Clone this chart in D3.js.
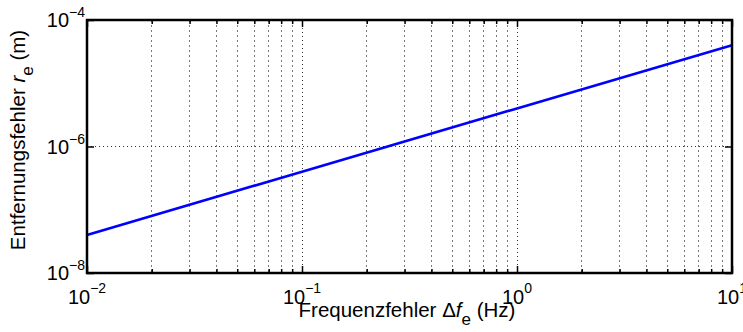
<!DOCTYPE html>
<html>
<head>
<meta charset="utf-8">
<script src="https://cdn.jsdelivr.net/npm/d3@7"></script>
<style>
  html, body { margin: 0; padding: 0; background: #fff; }
  svg { display: block; font-family: "Liberation Sans", Arial, Helvetica, sans-serif; }
</style>
</head>
<body>
<svg id="chart" width="743" height="332"></svg>
<script>
// Frequency error (Hz) and resulting range error (m)
const freqError = [0.01, 0.1, 1, 10];
const rangeError = [4e-8, 4e-7, 4e-6, 4e-5];

// Axis domains and tick labels (exponents of ten)
const xDomain = [0.01, 10];
const yDomain = [1e-8, 1e-4];
const xMajorTicks = [0.01, 0.1, 1, 10];
const xTickExponents = ["\u22122", "\u22121", "0", "1"];
const yMajorTicks = [1e-8, 1e-6, 1e-4];
const yTickExponents = ["\u22128", "\u22126", "\u22124"];
const minorMultipliers = [2, 3, 4, 5, 6, 7, 8, 9];

const svg = d3.select("#chart");
const plotLeft = 87, plotRight = 732, plotTop = 20, plotBottom = 273;

const x = d3.scaleLog().domain(xDomain).range([plotLeft, plotRight]);
const y = d3.scaleLog().domain(yDomain).range([plotBottom, plotTop]);

const xMinor = [];
for (const d of [0.01, 0.1, 1]) for (const m of minorMultipliers) xMinor.push(d * m);

// Grid lines
const grid = svg.append("g");
grid.selectAll(".gx-minor").data(xMinor).join("line")
  .attr("x1", d => x(d)).attr("x2", d => x(d))
  .attr("y1", plotTop).attr("y2", plotBottom)
  .attr("stroke", "#7a7a7a").attr("stroke-width", 1)
  .attr("stroke-dasharray", "2,3").attr("shape-rendering", "crispEdges");
grid.selectAll(".gx-major").data(xMajorTicks.slice(1, -1)).join("line")
  .attr("x1", d => x(d)).attr("x2", d => x(d))
  .attr("y1", plotTop).attr("y2", plotBottom)
  .attr("stroke", "#333").attr("stroke-width", 1)
  .attr("stroke-dasharray", "1,3").attr("shape-rendering", "crispEdges");
grid.selectAll(".gy-major").data(yMajorTicks.slice(1, -1)).join("line")
  .attr("x1", plotLeft).attr("x2", plotRight)
  .attr("y1", d => y(d)).attr("y2", d => y(d))
  .attr("stroke", "#333").attr("stroke-width", 1)
  .attr("stroke-dasharray", "1,3").attr("shape-rendering", "crispEdges");

// Inward tick marks on all four sides
function tickAxis(axisFn, scale, values, size, transform) {
  const g = svg.append("g").attr("transform", transform)
    .call(axisFn(scale).tickValues(values).tickSize(size).tickFormat(""));
  g.select(".domain").remove();
  g.selectAll(".tick line").attr("stroke", "#000").attr("stroke-width", 1.5);
}
tickAxis(d3.axisBottom, x, xMinor, -4, `translate(0,${plotBottom})`);
tickAxis(d3.axisBottom, x, xMajorTicks, -7, `translate(0,${plotBottom})`);
tickAxis(d3.axisTop, x, xMinor, -4, `translate(0,${plotTop})`);
tickAxis(d3.axisTop, x, xMajorTicks, -7, `translate(0,${plotTop})`);
tickAxis(d3.axisLeft, y, yMajorTicks, -7, `translate(${plotLeft},0)`);
tickAxis(d3.axisRight, y, yMajorTicks, -7, `translate(${plotRight},0)`);

// Data line
const line = d3.line().x((d, i) => x(freqError[i])).y(d => y(d));
svg.append("path").datum(rangeError)
  .attr("d", line)
  .attr("fill", "none").attr("stroke", "#0000ff").attr("stroke-width", 2.6);

// Frame
svg.append("rect")
  .attr("x", plotLeft).attr("y", plotTop)
  .attr("width", plotRight - plotLeft).attr("height", plotBottom - plotTop)
  .attr("fill", "none").attr("stroke", "#000").attr("stroke-width", 2.5);

// Tick labels
const xl = svg.append("g").selectAll("text").data(xMajorTicks).join("text")
  .attr("x", d => x(d)).attr("y", 304)
  .attr("text-anchor", "middle").attr("font-size", 20).attr("fill", "#000");
xl.append("tspan").text("10");
xl.append("tspan").attr("dy", -11).attr("font-size", 14).text((d, i) => xTickExponents[i]);

const yl = svg.append("g").selectAll("text").data(yMajorTicks).join("text")
  .attr("x", 85).attr("y", d => y(d) + 7)
  .attr("text-anchor", "end").attr("font-size", 20).attr("fill", "#000");
yl.append("tspan").text("10");
yl.append("tspan").attr("dy", -10).attr("font-size", 14).text((d, i) => yTickExponents[i]);

// Axis titles
const xt = svg.append("text")
  .attr("x", 407).attr("y", 317)
  .attr("text-anchor", "middle").attr("font-size", 20.5).attr("fill", "#000");
xt.append("tspan").text("Frequenzfehler \u0394");
xt.append("tspan").attr("font-style", "italic").text("f");
xt.append("tspan").attr("dy", 8).attr("font-size", 17).text("e");
xt.append("tspan").attr("dy", -8).text(" (Hz)");

const yt = svg.append("text")
  .attr("transform", "translate(25,140) rotate(-90)")
  .attr("text-anchor", "middle").attr("font-size", 20.5).attr("fill", "#000");
yt.append("tspan").text("Entfernungsfehler ");
yt.append("tspan").attr("font-style", "italic").text("r");
yt.append("tspan").attr("dy", 8).attr("font-size", 17).text("e");
yt.append("tspan").attr("dy", -8).text(" (m)");
</script>
</body>
</html>
